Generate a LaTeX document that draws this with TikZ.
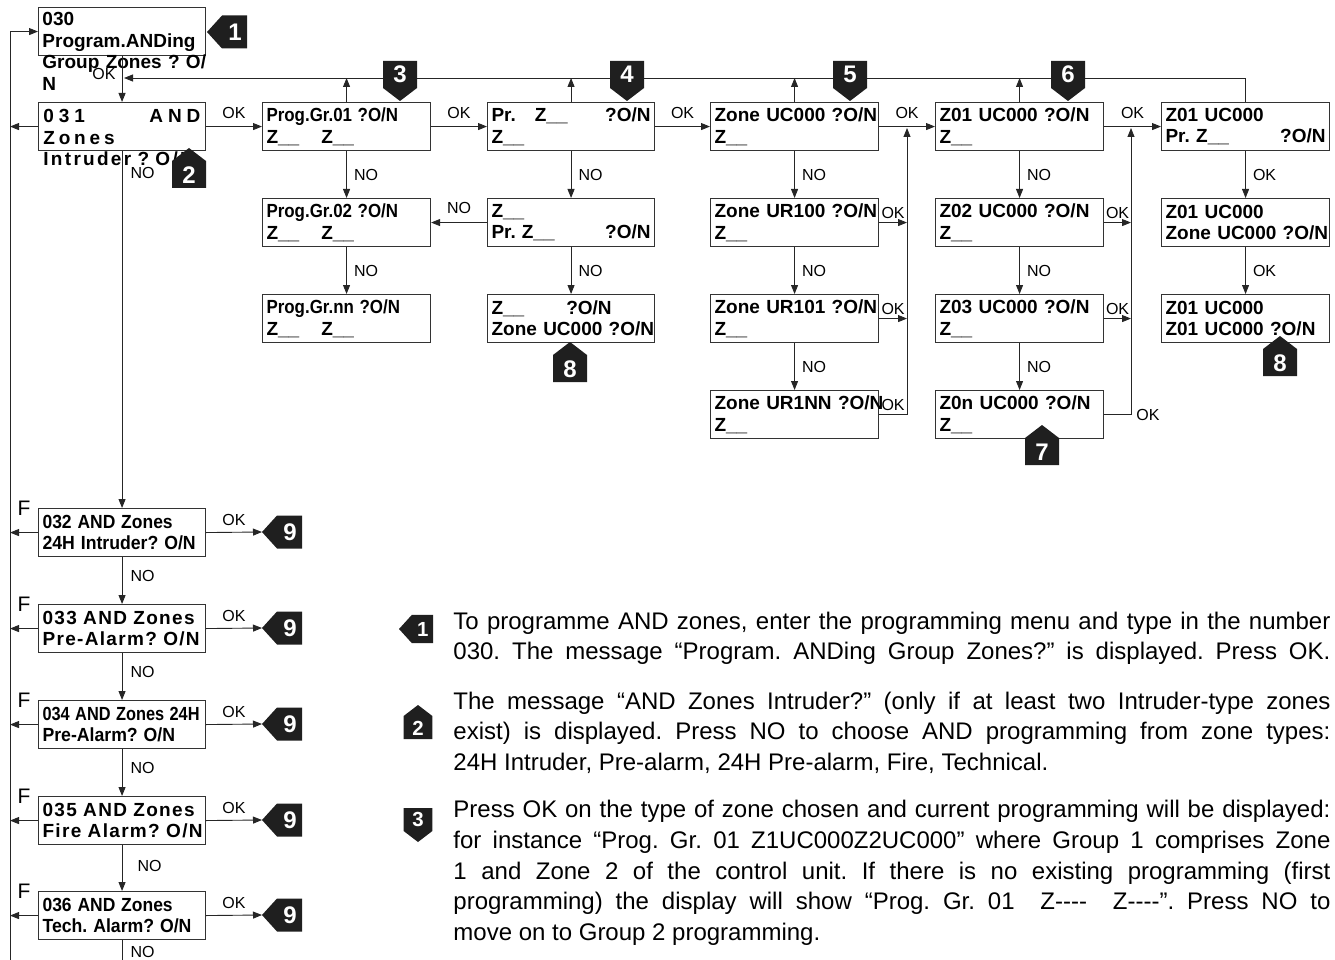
\documentclass[tikz,border=0pt]{standalone}
\usepackage{fontspec}
\usepackage{graphicx}
\setmainfont{Liberation Sans}
\usetikzlibrary{arrows.meta}
\frenchspacing

\newcommand{\lcdfont}{\bfseries\fontsize{19}{21.5}\selectfont}
\newcommand{\sqz}[2]{\scalebox{#1}[1]{#2}}
\newcommand{\lline}[1]{\makebox[\hsize][l]{#1}}

% black number tags
\newcommand{\tagleft}[4][1]{%
  \begin{scope}[shift={#3}, scale=#1]
    \fill[tagfill] (0,0) -- (15,-16.5) -- (40,-16.5) -- (40,16.5) -- (15,16.5) -- cycle;
    \coordinate (#2-tip) at (0,0);
    \node[tagnum, scale=#1] (#2) at (28,0) {#4};
  \end{scope}}
\newcommand{\tagup}[4][1]{%
  \begin{scope}[shift={#3}, scale=#1]
    \fill[tagfill] (0,0) -- (17,13) -- (17,40) -- (-17,40) -- (-17,13) -- cycle;
    \node[tagnum, scale=#1] (#2) at (0,27) {#4};
  \end{scope}}
\newcommand{\tagdown}[4][1]{%
  \begin{scope}[shift={#3}, scale=#1]
    \fill[tagfill] (0,0) -- (17,-13) -- (17,-40) -- (-17,-40) -- (-17,-13) -- cycle;
    \node[tagnum, scale=#1] (#2) at (0,-27) {#4};
  \end{scope}}

\begin{document}
\begin{tikzpicture}[x=1pt, y=-1pt, line width=0.9pt, draw=black!85,
    >={Triangle[length=9pt,width=7pt]},
    lcd/.style={draw=black!80, line width=1.1pt, anchor=north west, minimum height=48pt,
      text width=#1pt, inner xsep=4pt, inner ysep=0pt, align=left, font=\lcdfont},
    lcdtxt/.style={anchor=north west, inner sep=0pt, text width=#1pt, align=left, font=\lcdfont},
    lbl/.style={font=\fontsize{16}{16}\selectfont, inner sep=2pt},
    flbl/.style={font=\fontsize{21}{21}\selectfont, inner sep=0pt},
    para/.style={anchor=base west, inner sep=0pt, font=\fontsize{24}{30}\selectfont},
    tagfill/.style={fill=black!88},
    tagnum/.style={text=white, font=\bfseries\fontsize{24}{24}\selectfont, inner sep=0pt}]

    \useasboundingbox (0,0) rectangle (1335,960);

    \coordinate (lbot) at (10,960);
    \coordinate (mbot) at (121.5,960);
    \coordinate (ret) at (124,78);
    \coordinate (vz1) at (907,128);
    \coordinate (vz2) at (1131,128);

    % left column
    \node[lcd=159] (b030) at (38,7) {};
    \node[lcdtxt=157] (t030) at (42,12) {\lline{030}\\\lline{Program.ANDing}\\\lline{Group Zones ? O/}\\\lline{N}};
    \node[lcd=159] (b031) at (38,102) {};
    \node[lcdtxt=157] (t031) at (43,109) {%
      \lline{\addfontfeature{LetterSpace=26}031\hfill AND}\\
      \lline{\addfontfeature{LetterSpace=20}Zones}\\
      \lline{\addfontfeature{LetterSpace=12}Intruder ? O/N}};
    \node[lcd=159] (b032) at (38,508) {\lline{\sqz{0.92}{032 AND Zones}}\\\lline{\sqz{0.93}{24H Intruder? O/N}}};
    \node[lcd=159] (b033) at (38,604) {\lline{\addfontfeature{LetterSpace=7}033 AND Zones}\\\lline{\addfontfeature{LetterSpace=7}Pre-Alarm? O/N}};
    \node[lcd=159] (b034) at (38,700) {\lline{\sqz{0.86}{034 AND Zones 24H}}\\\lline{\sqz{0.93}{Pre-Alarm? O/N}}};
    \node[lcd=159] (b035) at (38,796) {\lline{\addfontfeature{LetterSpace=7}035 AND Zones}\\\lline{\addfontfeature{LetterSpace=7}Fire Alarm? O/N}};
    \node[lcd=159] (b036) at (38,891) {\lline{\sqz{0.92}{036 AND Zones}}\\\lline{\sqz{0.93}{Tech. Alarm? O/N}}};

    \node[flbl] (f032) at (24,508) {F};
    \node[flbl] (f033) at (24,604) {F};
    \node[flbl] (f034) at (24,700) {F};
    \node[flbl] (f035) at (24,796) {F};
    \node[flbl] (f036) at (24,891) {F};

    % group columns
    \node[lcd=160] (g01) at (262,102) {\lline{\sqz{0.89}{Prog.Gr.01 ?O/N}}\\\lline{Z\_\_\hspace{22pt}Z\_\_}};
    \node[lcd=160] (g02) at (262,198) {\lline{\sqz{0.89}{Prog.Gr.02 ?O/N}}\\\lline{Z\_\_\hspace{22pt}Z\_\_}};
    \node[lcd=160] (gnn) at (262,294) {\lline{\sqz{0.89}{Prog.Gr.nn ?O/N}}\\\lline{Z\_\_\hspace{22pt}Z\_\_}};

    \node[lcd=159] (p1) at (487,102) {\lline{Pr.\hspace{19pt}Z\_\_\hfill?O/N}\\\lline{Z\_\_}};
    \node[lcd=159] (p2) at (487,198) {\lline{Z\_\_}\\\lline{Pr.\hspace{6pt}Z\_\_\hfill?O/N}};
    \node[lcd=159] (p3) at (487,294) {\lline{Z\_\_\hspace{42pt}?O/N}\\\lline{Zone UC000 ?O/N}};

    \node[lcd=160] (zu) at (710,102) {\lline{Zone UC000 ?O/N}\\\lline{Z\_\_}};
    \node[lcd=160] (zr100) at (710,198) {\lline{Zone UR100 ?O/N}\\\lline{Z\_\_}};
    \node[lcd=160] (zr101) at (710,294) {\lline{Zone UR101 ?O/N}\\\lline{Z\_\_}};
    \node[lcd=160] (zr1nn) at (710,390) {\lline{Zone UR1NN ?O/N}\\\lline{Z\_\_}};

    \node[lcd=160] (z01) at (935,102) {\lline{Z01 UC000 ?O/N}\\\lline{Z\_\_}};
    \node[lcd=160] (z02) at (935,198) {\lline{Z02 UC000 ?O/N}\\\lline{Z\_\_}};
    \node[lcd=160] (z03) at (935,294) {\lline{Z03 UC000 ?O/N}\\\lline{Z\_\_}};
    \node[lcd=160] (z0n) at (935,390) {\lline{Z0n UC000 ?O/N}\\\lline{Z\_\_}};

    \node[lcd=160] (r1) at (1161,102) {\lline{Z01 UC000}\\\lline{Pr. Z\_\_\hfill?O/N}};
    \node[lcd=160] (r2) at (1161,198) {\lline{Z01 UC000}\\\lline{Zone UC000 ?O/N}};
    \node[lcd=160] (r3) at (1161,294) {\lline{Z01 UC000}\\\lline{Z01 UC000 ?O/N}};

    % left loop
    \draw[->] (lbot) |- (b030.west);
    \foreach \b in {b031,b032,b033,b034,b035,b036}
      \draw[->] (\b.west) -- (\b.west -| lbot);

    % main column
    \draw[->] (b030) -- node[lbl, left=4pt, pos=0.4]{OK} (b031);
    \draw[->] (b031) -- node[lbl, right=6pt, pos=0.06]{NO} (b032);
    \draw[->] (b032) -- node[lbl, right=6pt, pos=0.4]{NO} (b033);
    \draw[->] (b033) -- node[lbl, right=6pt, pos=0.4]{NO} (b034);
    \draw[->] (b034) -- node[lbl, right=6pt, pos=0.4]{NO} (b035);
    \draw[->] (b035) -- node[lbl, right=13pt, pos=0.45]{NO} (b036);
    \draw (b036.south) -- node[lbl, right=6pt, pos=0.6]{NO} (b036.south |- mbot);

    % first row
    \draw[->] (b031) -- node[lbl, above=5pt]{OK} (g01);
    \draw[->] (g01) -- node[lbl, above=5pt]{OK} (p1);
    \draw[->] (p1) -- node[lbl, above=5pt]{OK} (zu);
    \draw[->] (zu) -- node[lbl, above=5pt]{OK} (z01);
    \draw[->] (z01) -- node[lbl, above=5pt]{OK} (r1);

    % return line
    \foreach \b in {g01,p1,zu,z01}
      \draw[->] (\b.north) -- (\b.north |- ret);
    \draw[->] (r1.north) |- (ret);

    % NO steps
    \draw[->] (g01) -- node[lbl, right=5pt]{NO} (g02);
    \draw[->] (g02) -- node[lbl, right=5pt]{NO} (gnn);
    \draw[->] (p1) -- node[lbl, right=5pt]{NO} (p2);
    \draw[->] (p2) -- node[lbl, right=5pt]{NO} (p3);
    \draw[->] (p2) -- node[lbl, above=6pt]{NO} (g02);
    \draw[->] (zu) -- node[lbl, right=5pt]{NO} (zr100);
    \draw[->] (zr100) -- node[lbl, right=5pt]{NO} (zr101);
    \draw[->] (zr101) -- node[lbl, right=5pt]{NO} (zr1nn);
    \draw[->] (z01) -- node[lbl, right=5pt]{NO} (z02);
    \draw[->] (z02) -- node[lbl, right=5pt]{NO} (z03);
    \draw[->] (z03) -- node[lbl, right=5pt]{NO} (z0n);
    \draw[->] (r1) -- node[lbl, right=5pt]{OK} (r2);
    \draw[->] (r2) -- node[lbl, right=5pt]{OK} (r3);

    % OK back to the row
    \draw[->] (zr100.east) -- node[lbl, above=1pt]{OK} (zr100.east -| vz1);
    \draw[->] (zr101.east) -- node[lbl, above=1pt]{OK} (zr101.east -| vz1);
    \draw[->] (zr1nn.east) -- node[lbl, above=1pt]{OK} (zr1nn.east -| vz1) -- (vz1);
    \draw[->] (z02.east) -- node[lbl, above=1pt]{OK} (z02.east -| vz2);
    \draw[->] (z03.east) -- node[lbl, above=1pt]{OK} (z03.east -| vz2);
    \draw[->] (z0n.east) -| node[lbl, right=3pt, pos=0.5]{OK} (vz2);

    % tags
    \tagleft{m1}{(207,32)}{1}
    \tagup{m2}{(189,148)}{2}
    \tagdown{m3}{(400,101)}{3}
    \tagdown{m4}{(627,101)}{4}
    \tagdown{m5}{(850,101)}{5}
    \tagdown{m6}{(1068,101)}{6}
    \tagup{m7}{(1042,425)}{7}
    \tagup{m8a}{(570,342)}{8}
    \tagup{m8b}{(1280,336)}{8}
    \tagleft{m9a}{(262,532)}{9}
    \tagleft{m9b}{(262,628)}{9}
    \tagleft{m9c}{(262,724)}{9}
    \tagleft{m9d}{(262,820)}{9}
    \tagleft{m9e}{(262,915)}{9}

    \draw[->] (b032.east) -- node[lbl, above=4pt]{OK} (m9a-tip);
    \draw[->] (b033.east) -- node[lbl, above=4pt]{OK} (m9b-tip);
    \draw[->] (b034.east) -- node[lbl, above=4pt]{OK} (m9c-tip);
    \draw[->] (b035.east) -- node[lbl, above=4pt]{OK} (m9d-tip);
    \draw[->] (b036.east) -- node[lbl, above=4pt]{OK} (m9e-tip);

    % notes
    \tagleft[0.85]{n1}{(399,629)}{1}
    \tagup[0.85]{n2}{(418,705)}{2}
    \tagdown[0.85]{n3}{(418,842)}{3}

    \node[para] (p1a) at (453,629) {\makebox[877pt][s]{To programme AND zones, enter the programming menu and type in the number}};
    \node[para] (p1b) at (453,659) {\makebox[877pt][s]{030. The message “Program. ANDing Group Zones?” is displayed. Press OK.}};
    \node[para] (p2a) at (453,709) {\makebox[877pt][s]{The message “AND Zones Intruder?” (only if at least two Intruder-type zones}};
    \node[para] (p2b) at (453,739) {\makebox[877pt][s]{exist) is displayed. Press NO to choose AND programming from zone types:}};
    \node[para] (p2c) at (453,770) {24H Intruder, Pre-alarm, 24H Pre-alarm, Fire, Technical.};
    \node[para] (p3a) at (453,817) {\makebox[877pt][s]{Press OK on the type of zone chosen and current programming will be displayed:}};
    \node[para] (p3b) at (453,848) {\makebox[877pt][s]{for instance “Prog. Gr. 01 Z1UC000Z2UC000” where Group 1 comprises Zone}};
    \node[para] (p3c) at (453,879) {\makebox[877pt][s]{1 and Zone 2 of the control unit. If there is no existing programming (first}};
    \node[para] (p3d) at (453,909) {\makebox[877pt][s]{programming) the display will show “Prog. Gr. 01~~Z{-}{-}{-}{-}~~Z{-}{-}{-}{-}”. Press NO to}};
    \node[para] (p3e) at (453,940) {move on to Group 2 programming.};

\end{tikzpicture}
\end{document}
